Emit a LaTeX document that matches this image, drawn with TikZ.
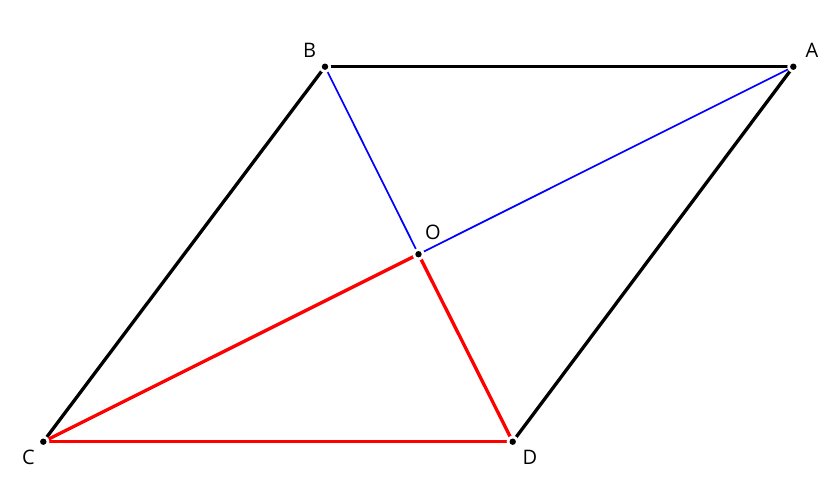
\documentclass[tikz,border=0pt]{standalone}
\usepackage{fontspec}
\setmainfont{Open Sans}
\begin{document}
\begin{tikzpicture}[x=1pt,y=-1pt,
  pt/.style={fill=black},
  lbl/.style={font=\fontsize{20}{22}\selectfont}]
   \useasboundingbox (0,0) rectangle (840,488);
   \coordinate (A) at (793.3,66.7);
   \coordinate (B) at (325,66.7);
   \coordinate (C) at (43.3,441.7);
   \coordinate (D) at (512.7,441.7);
   \coordinate (O) at (418.5,254.2);
   \draw[line width=3.3pt] (B) -- (A);
   \draw[line width=3.3pt] (B) -- (C);
   \draw[line width=3.3pt] (A) -- (D);
   \draw[line width=1.7pt,blue] (O) -- (A);
   \draw[line width=1.7pt,blue] (O) -- (B);
   \draw[line width=3.3pt,red] (C) -- (D);
   \draw[line width=3.3pt,red] (O) -- (C);
   \draw[line width=3.3pt,red] (O) -- (D);
   \foreach \p in {A,B,C,D,O} {
     \fill[white] (\p) circle(6);
     \fill[pt] (\p) circle(3.2);
   }
   \draw (309.5,50) node[lbl]{B};
   \draw (812,50) node[lbl]{A};
   \draw (28.5,457) node[lbl]{C};
   \draw (530,457.5) node[lbl]{D};
   \draw (433,232.5) node[lbl]{O};
\end{tikzpicture}
\end{document}
